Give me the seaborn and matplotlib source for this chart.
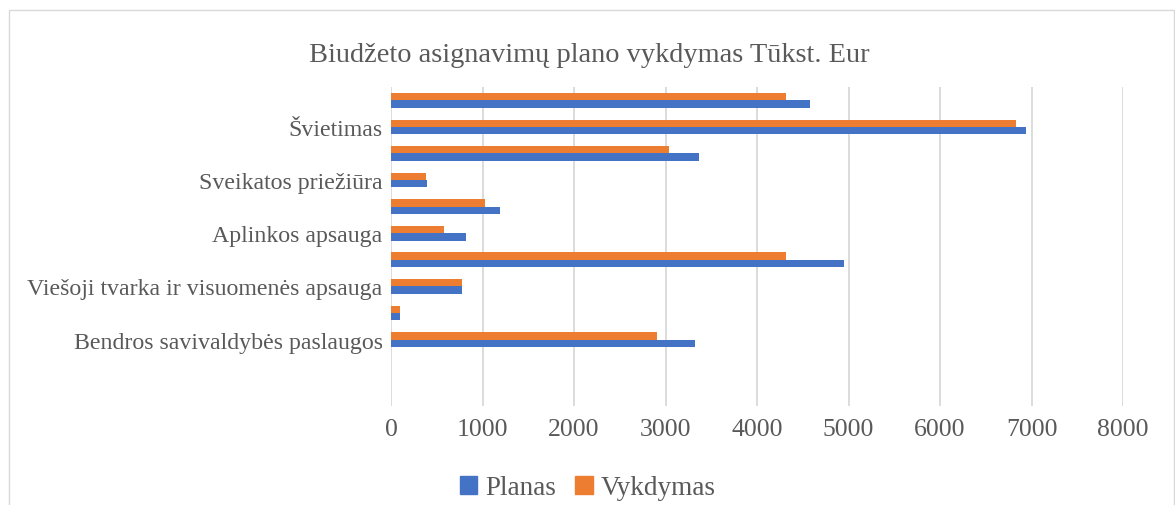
import matplotlib.pyplot as plt
import matplotlib.patches as mpatches
import pandas as pd
import seaborn as sns

# Duomenys (nuo virsaus i apacia)
sritys = [
    "Socialinė apsauga",
    "Švietimas",
    "Poilsis, kultūra ir religija",
    "Sveikatos priežiūra",
    "Būstas ir komunalinis ūkis",
    "Aplinkos apsauga",
    "Ekonomika",
    "Viešoji tvarka ir visuomenės apsauga",
    "Gynyba",
    "Bendros savivaldybės paslaugos",
]
planas = [4584, 6936, 3370, 394, 1193, 821, 4956, 777, 98, 3326]
vykdymas = [4322, 6827, 3042, 383, 1028, 580, 4322, 777, 98, 2910]
rodomos = ["Švietimas", "Sveikatos priežiūra", "Aplinkos apsauga",
           "Viešoji tvarka ir visuomenės apsauga", "Bendros savivaldybės paslaugos"]

df = pd.DataFrame({"Sritis": sritys, "Planas": planas, "Vykdymas": vykdymas})
df = df.melt(id_vars="Sritis", var_name="Serija", value_name="Suma")

spalvos = {"Planas": "#4472C4", "Vykdymas": "#ED7D31"}
pilka = "#595959"

sns.set_style("white")
plt.rcParams["font.family"] = ["Liberation Serif", "DejaVu Serif"]

fig = plt.figure(figsize=(11.75, 5.06), dpi=100)
ax = fig.add_axes([391 / 1175, 1 - 407 / 506, 732 / 1175, 319 / 506])

sns.barplot(data=df, y="Sritis", x="Suma", hue="Serija", order=sritys,
            hue_order=["Vykdymas", "Planas"], palette=spalvos, orient="h",
            width=0.55, dodge=True, legend=False, linewidth=0, saturation=1, ax=ax)

ax.set_xlim(0, 8000)
ax.set_ylim(11.5, -0.5)
ax.set_xticks(range(0, 8001, 1000))
ax.set_yticks(range(len(sritys)))
ax.set_yticklabels([s if s in rodomos else "" for s in sritys])
ax.tick_params(axis="y", length=0, labelsize=17.2, labelcolor=pilka, pad=6)
ax.tick_params(axis="x", length=0, labelsize=18.5, labelcolor=pilka, pad=9)
ax.grid(axis="x", color="#d9d9d9", linewidth=1.3)
ax.set_axisbelow(True)
ax.set_xlabel("")
ax.set_ylabel("")
for s in ax.spines.values():
    s.set_visible(False)

fig.text(589 / 1175, 1 - 62 / 506, "Biudžeto asignavimų plano vykdymas Tūkst. Eur",
         ha="center", va="baseline", fontsize=20.4, color=pilka)

# remelis
fig.patches.append(mpatches.Rectangle((9 / 1175, -0.1), 1165 / 1175, 1.1 - 11 / 506,
                                      transform=fig.transFigure, fill=False,
                                      edgecolor="#d9d9d9", linewidth=1))

handles = [mpatches.Patch(color=spalvos["Planas"], label="Planas"),
           mpatches.Patch(color=spalvos["Vykdymas"], label="Vykdymas")]
fig.legend(handles=handles, loc="center", bbox_to_anchor=(588 / 1175, 1 - 489 / 506),
           ncol=2, frameon=False, fontsize=19.5, labelcolor=pilka,
           handlelength=0.65, handleheight=0.65, handletextpad=0.3, columnspacing=0.7,
           borderpad=0)

fig.savefig("out.png", dpi=100)
